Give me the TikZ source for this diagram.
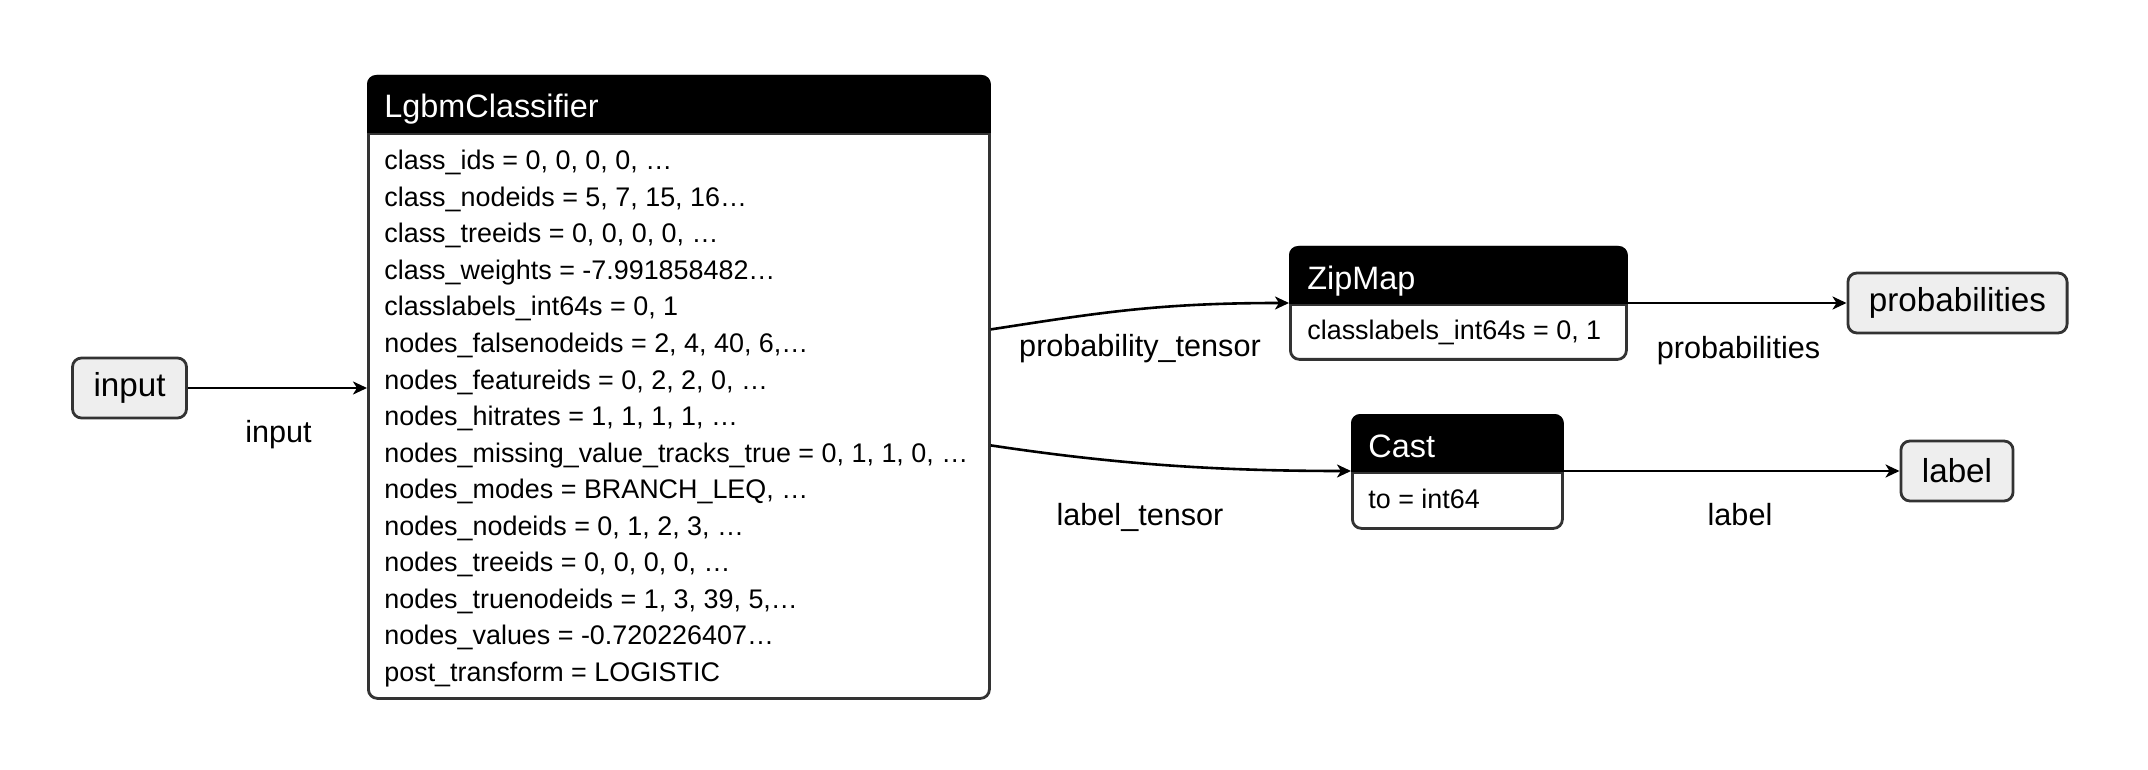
\documentclass[tikz,border=0pt]{standalone}
\usepackage{fontspec}
\setmainfont{Liberation Sans}
\usetikzlibrary{arrows.meta, calc}
\definecolor{linegray}{HTML}{333333}
\definecolor{leaffill}{HTML}{EEEEEE}

\begin{document}
\begin{tikzpicture}[x=0.5pt, y=-0.5pt, >={Stealth[length=7pt, width=6.5pt, inset=2pt]},
  opframe/.style={draw=linegray, line width=1.4pt, fill=white, rounded corners=4.5pt, anchor=north west, inner sep=0pt},
  leaf/.style={draw=linegray, line width=1.4pt, fill=leaffill, rounded corners=4.5pt, minimum height=30pt, inner xsep=10.5pt, font=\fontsize{16.6}{20}\selectfont},
  headtxt/.style={text=white, inner sep=0pt, anchor=base west, font=\fontsize{16.2}{20}\selectfont},
  bodytxt/.style={inner sep=0pt, anchor=base west, font=\fontsize{13.45}{16}\selectfont},
  edgelbl/.style={inner sep=0pt, anchor=base, font=\fontsize{15.3}{18}\selectfont},
  flow/.style={->, line width=1.3pt}]
\useasboundingbox (0,0) rectangle (2148,770);
\node[leaf] (input) at (129.5,388) {input};
\node[opframe, minimum width=310.5pt, minimum height=311pt] (lgbm) at (367,75) {};
\node[opframe, minimum width=168pt, minimum height=56pt] (zip) at (1289,246) {};
\node[opframe, minimum width=105pt, minimum height=56.5pt] (cast) at (1351,414) {};
\node[leaf] (probs) at (1957.5,303) {probabilities};
\node[leaf] (lbl) at (1957,471) {label};
% black title bars
\foreach \b in {lgbm,zip,cast} {
  \fill[black, rounded corners=4.5pt] (\b.north west) rectangle ($(\b.north east)+(0,59)$);
  \fill[black] ($(\b.north west)+(0,30)$) rectangle ($(\b.north east)+(0,59)$);
  \draw[linegray, line width=1.4pt] ($(\b.north west)+(0,59)$) -- ($(\b.north east)+(0,59)$);
}
\node[headtxt] (lgbmtitle) at ($(lgbm.north west)+(17,43)$) {LgbmClassifier};
\node[headtxt] (ziptitle) at ($(zip.north west)+(18,44)$) {ZipMap};
\node[headtxt] (casttitle) at ($(cast.north west)+(17,43)$) {Cast};
\foreach \attr [count=\i from 0] in {{class\_ids = 0, 0, 0, 0, …}, {class\_nodeids = 5, 7, 15, 16…},
  {class\_treeids = 0, 0, 0, 0, …}, {class\_weights = -7.991858482…}, {classlabels\_int64s = 0, 1},
  {nodes\_falsenodeids = 2, 4, 40, 6,…}, {nodes\_featureids = 0, 2, 2, 0, …}, {nodes\_hitrates = 1, 1, 1, 1, …},
  {nodes\_missing\_value\_tracks\_true = 0, 1, 1, 0, …}, {nodes\_modes = BRANCH\_LEQ, …},
  {nodes\_nodeids = 0, 1, 2, 3, …}, {nodes\_treeids = 0, 0, 0, 0, …}, {nodes\_truenodeids = 1, 3, 39, 5,…},
  {nodes\_values = -0.720226407…}, {post\_transform = LOGISTIC}}
  \node[bodytxt] (lgbm\i) at ($(lgbm.north west)+(17,95+36.5*\i)$) {\attr};
\node[bodytxt] (zip0) at ($(zip.north west)+(18,94)$) {classlabels\_int64s = 0, 1};
\node[bodytxt] (cast0) at ($(cast.north west)+(17,94)$) {to = int64};
% edges
\draw[flow] (input.east) -- (input.east -| lgbm.west);
\draw[flow] ($(lgbm.east)+(0,-58)$) .. controls +(110,-17) and +(-130,0) .. (probs.west -| zip.west);
\draw[flow] ($(lgbm.east)+(0,58)$) .. controls +(120,18) and +(-140,0) .. (lbl.west -| cast.west);
\draw[flow] (probs.west -| zip.east) -- (probs.west);
\draw[flow] (lbl.west -| cast.east) -- (lbl.west);
\node[edgelbl] (inlbl) at (278.5,442) {input};
\node[edgelbl] (ptlbl) at (1140,357) {probability\_tensor};
\node[edgelbl] (prlbl) at (1738.5,358) {probabilities};
\node[edgelbl] (ltlbl) at (1140,525) {label\_tensor};
\node[edgelbl] (lblbl) at (1740,525) {label};
\end{tikzpicture}
\end{document}
